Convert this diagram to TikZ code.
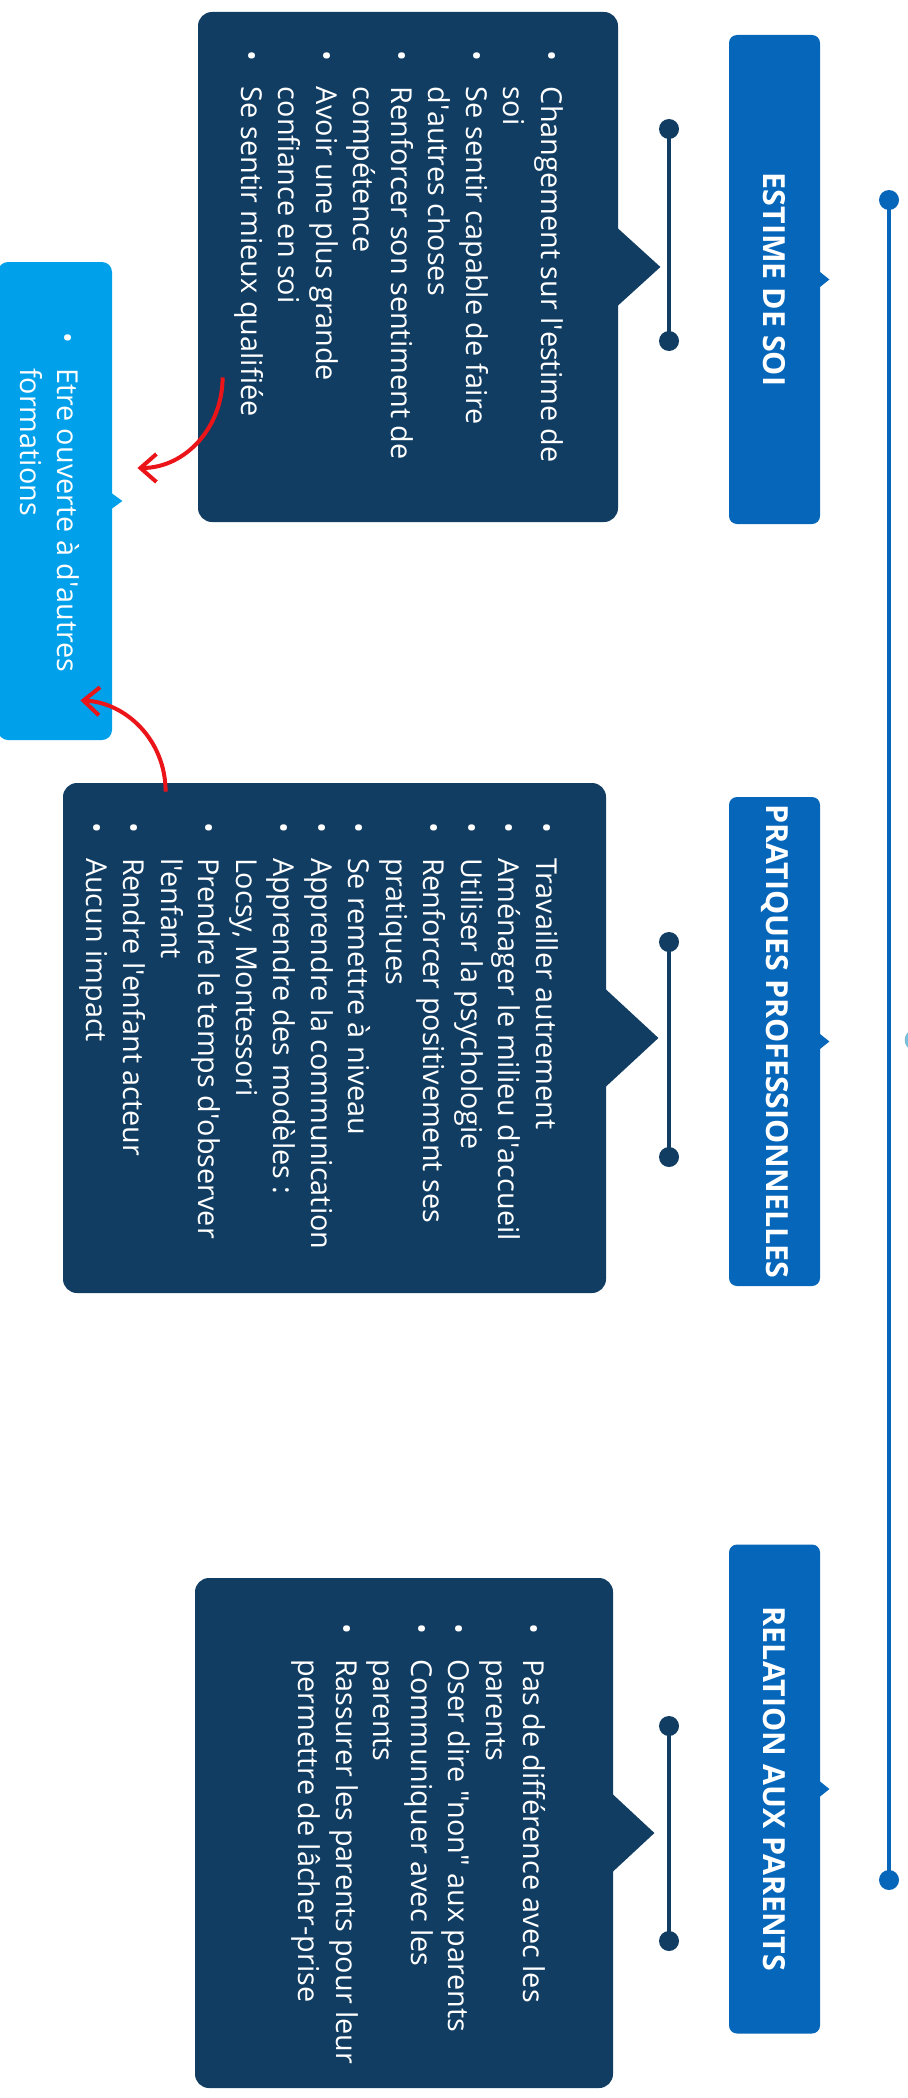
\documentclass[tikz,border=0pt]{standalone}
\usepackage{fontspec}
\setmainfont{Open Sans}
\usepackage{tikz}
\usetikzlibrary{calc,positioning,arrows.meta}
\definecolor{nuit}{RGB}{17,61,98}
\definecolor{bleu}{RGB}{6,102,185}
\definecolor{ciel}{RGB}{0,160,234}
\definecolor{rouge}{RGB}{235,20,25}
\newcommand{\puce}{\makebox[18pt][l]{\textbullet}}
\newcommand{\suite}{\hspace*{18pt}}
\newcommand{\apo}{\textquotesingle}
\tikzset{
  titre/.style={fill=bleu,text=white,rounded corners=4pt,rotate=-90,inner sep=0pt,
    minimum width=244.5pt,minimum height=45.5pt,font=\fontsize{15.2}{18}\selectfont\bfseries},
  boite/.style={fill=nuit,rounded corners=7pt,inner sep=0pt,minimum height=255pt},
  texte/.style={rotate=-90,anchor=north west,text=white,align=left,inner sep=0pt,
    font=\fontsize{14.4}{18.75}\selectfont},
  fleche/.style={draw=rouge,line width=2pt,-{Straight Barb[length=8pt,width=14pt]}},
}
\begin{document}
\begin{tikzpicture}[x=0.5pt,y=-0.5pt]
\useasboundingbox (0,0) rectangle (908,2098);
%Zeitachse
\draw[bleu,line width=2pt] (889,200) -- (889,1880);
\fill[bleu] (889,200) circle[radius=5pt] (889,1880) circle[radius=5pt];
\draw[cyan!55!teal!60,line width=1.5pt] (913,1031) .. controls (904,1034) and (904,1046) .. (913,1049);
%Titel
\node[titre] (h1) at (774.5,279.5) {ESTIME DE SOI};
\node[titre] (h2) at (774.5,1041.5) {PRATIQUES PROFESSIONNELLES};
\node[titre] (h3) at (774.5,1789) {RELATION AUX PARENTS};
\foreach \h in {h1,h2,h3}{
\fill[bleu] ($(\h.north)+(-1,-8)$) -- ($(\h.north)+(9,0)$) -- ($(\h.north)+(-1,8)$) -- cycle;
}
%Klammern
\foreach \a/\b in {129/341,942/1157,1726/1941}{
\draw[nuit,line width=2.3pt] (669,\a) -- (669,\b);
\fill[nuit] (669,\a) circle[radius=5pt] (669,\b) circle[radius=5pt];
}
%Kaesten
\node[boite,minimum width=210pt] (d1) at (408,267) {};
\node[boite,minimum width=271.5pt] (d2) at (334.5,1038) {};
\node[boite,minimum width=209pt] (d3) at (404,1833) {};
\fill[nuit] ($(d1.east)+(-2,-40)$) -- ($(d1.east)+(42,0)$) -- ($(d1.east)+(-2,40)$) -- cycle;
\fill[nuit] ($(d2.east)+(-2,-50)$) -- ($(d2.east)+(52,0)$) -- ($(d2.east)+(-2,50)$) -- cycle;
\fill[nuit] ($(d3.east)+(-2,-40)$) -- ($(d3.east)+(41,0)$) -- ($(d3.east)+(-2,40)$) -- cycle;
\node[fill=ciel,rounded corners=5pt,inner sep=0pt,minimum width=57pt,minimum height=239pt] (l1) at (55,501) {};
\fill[ciel] ($(l1.east)+(-1,-8)$) -- ($(l1.east)+(10,0)$) -- ($(l1.east)+(-1,8)$) -- cycle;
%Texte
\node[texte] (t1) at ($(d1.north east)+(-55,39)$) {\puce Changement sur l\apo estime de\\ \suite soi\\
\puce Se sentir capable de faire\\ \suite d\apo autres choses\\
\puce Renforcer son sentiment de\\ \suite compétence\\
\puce Avoir une plus grande\\ \suite confiance en soi\\
\puce Se sentir mieux qualifiée};
\node[texte] (t2) at ($(d2.north east)+(-48,39)$) {\puce Travailler autrement\\
\puce Aménager le milieu d\apo accueil\\
\puce Utiliser la psychologie\\
\puce Renforcer positivement ses\\ \suite pratiques\\
\puce Se remettre à niveau\\
\puce Apprendre la communication\\
\puce Apprendre des modèles :\\ \suite Locsy, Montessori\\
\puce Prendre le temps d\apo observer\\ \suite l\apo enfant\\
\puce Rendre l\apo enfant acteur\\
\puce Aucun impact};
\node[texte] (t3) at ($(d3.north east)+(-67,45)$) {\puce Pas de différence avec les\\ \suite parents\\
\puce Oser dire \textquotedbl non\textquotedbl{} aux parents\\
\puce Communiquer avec les\\ \suite parents\\
\puce Rassurer les parents pour leur\\ \suite permettre de lâcher-prise};
\node[texte] (t4) at ($(l1.north east)+(-32,70)$) {\puce Etre ouverte à d\apo autres\\ \suite formations};
%Pfeile
\coordinate (r1a) at ($(d1.south west)+(25,-145)$);
\coordinate (r1b) at ($(l1.east)+(25,-33)$);
\coordinate (r2a) at ($(d2.north west)+(103,9)$);
\coordinate (r2b) at ($(l1.south east)+(-32,-40)$);
\draw[fleche] (r1a) .. controls +(0,50) and +(48,0) .. (r1b);
\draw[fleche] (r2a) .. controls +(0,-52) and +(45,2) .. (r2b);
\end{tikzpicture}
\end{document}
